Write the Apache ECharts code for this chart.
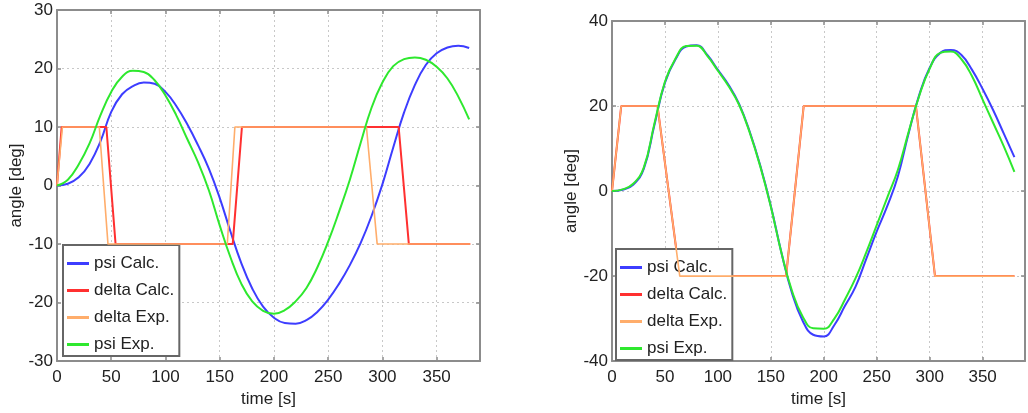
<!DOCTYPE html>
<html>
<head>
<meta charset="utf-8">
<script src="https://cdn.jsdelivr.net/npm/echarts@6/dist/echarts.min.js"></script>
<style>
  html, body { margin: 0; padding: 0; background: #ffffff; }
  #chart { width: 1028px; height: 413px; }
</style>
</head>
<body>
<div id="chart"></div>
<script>
// Sample times for the heading (psi) responses, seconds
const timeSamples = [0, 10, 20, 30, 40, 50, 60, 70, 80, 90, 100, 110, 120, 130, 140, 150, 160, 170, 180, 190,
  200, 210, 220, 230, 240, 250, 260, 270, 280, 290, 300, 310, 320, 330, 340, 350, 360, 370, 380];

// Left panel: +/-10 deg rudder manoeuvre
const leftPsiCalc = [0, 0.3, 1.4, 3.7, 7.5, 12.6, 15.6, 17.0, 17.6, 17.4, 16.0, 13.6, 10.5, 6.9, 2.9, -2.1, -7.9,
  -13.3, -17.6, -20.7, -22.6, -23.5, -23.6, -23.0, -21.6, -19.5, -16.8, -13.6, -9.8, -5.2, 0.2, 6.5, 12.5,
  17.2, 20.6, 22.6, 23.6, 23.9, 23.5];
const leftPsiExp = [0, 1.0, 3.6, 7.2, 12.0, 16.0, 18.6, 19.6, 19.4, 18.0, 15.4, 12.0, 8.0, 4.0, -0.8, -6.8, -12.3,
  -16.8, -19.8, -21.4, -21.9, -21.3, -19.8, -17.5, -14.0, -9.6, -4.5, 1.0, 7.3, 13.3, 17.6, 20.4, 21.6, 21.9,
  21.5, 20.3, 18.3, 15.2, 11.3];
const leftDeltaCalcTime = [0, 4.3, 45.5, 54, 162, 170.5, 315, 324.4, 381];
const leftDeltaCalcAngle = [0, 10, 10, -10, -10, 10, 10, -10, -10];
const leftDeltaExpTime = [0, 5, 39, 47, 157, 164, 285.3, 295.2, 381];
const leftDeltaExpAngle = [0, 10, 10, -10, -10, 10, 10, -10, -10];

// Right panel: +/-20 deg rudder manoeuvre
const rightPsiCalc = [0, 0.3, 1.5, 5.2, 15.5, 25.5, 31.0, 34.0, 34.3, 32.0, 28.5, 25.0, 20.5, 14.0, 6.0, -3.5,
  -14.5, -24.0, -30.5, -33.8, -34.2, -31.5, -27.0, -22.5, -16.0, -9.5, -3.5, 3.5, 13.5, 22.5, 29.0, 32.5,
  33.2, 32.0, 28.5, 24.0, 19.0, 13.5, 8.0];
const rightPsiExp = [0, 0.4, 1.7, 5.5, 15.8, 25.7, 31.2, 34.1, 34.2, 31.8, 28.3, 24.7, 20.3, 13.8, 5.8, -3.7,
  -14.5, -23.5, -29.5, -32.3, -32.4, -30.0, -25.5, -20.5, -14.5, -8.0, -1.5, 5.0, 13.8, 22.3, 28.8, 32.5,
  32.8, 31.0, 27.0, 21.5, 16.0, 10.5, 4.5];
const rightDeltaCalcTime = [0, 8.7, 43, 64, 164.4, 181, 287, 305, 380];
const rightDeltaCalcAngle = [0, 20, 20, -20, -20, 20, 20, -20, -20];
const rightDeltaExpTime = [0, 8.7, 43, 64, 164.4, 181, 287, 305, 380];
const rightDeltaExpAngle = [0, 20, 20, -20, -20, 20, 20, -20, -20];

const seriesNames = ['psi Calc.', 'delta Calc.', 'delta Exp.', 'psi Exp.'];
const seriesColors = ['#3d3dff', '#ff3030', '#ffad6b', '#2ee82e'];

const FONT = '"Liberation Sans", Arial, Helvetica, sans-serif';
const AXIS_GRAY = '#8c8c8c';

function pairs(xs, ys) {
  return xs.map((x, i) => [x, ys[i]]);
}

const frameLine = { show: true, onZero: false, lineStyle: { color: AXIS_GRAY, width: 2 } };
const innerTick = { show: true, inside: true, length: 4, lineStyle: { color: AXIS_GRAY, width: 1.5 } };
const dottedGrid = { show: true, lineStyle: { color: '#c8c8c8', type: [2, 3], width: 1 } };

function bottomAxis(gridIndex, max) {
  return {
    type: 'value', gridIndex, min: 0, max, interval: 50, position: 'bottom',
    name: 'time [s]', nameLocation: 'middle', nameGap: 27,
    nameTextStyle: { fontFamily: FONT, fontSize: 17, color: '#222' },
    axisLine: frameLine, axisTick: innerTick, splitLine: dottedGrid,
    axisLabel: {
      fontFamily: FONT, fontSize: 17, color: '#222', margin: 8,
      formatter: v => (v % 50 === 0 ? String(v) : '')
    }
  };
}

function topAxis(gridIndex, max) {
  return {
    type: 'value', gridIndex, min: 0, max, interval: 50, position: 'top',
    axisLine: frameLine, axisTick: innerTick,
    axisLabel: { show: false }, splitLine: { show: false }
  };
}

function leftAxis(gridIndex, lim, step) {
  return {
    type: 'value', gridIndex, min: -lim, max: lim, interval: step, position: 'left',
    name: 'angle [deg]', nameLocation: 'middle', nameGap: 28,
    nameTextStyle: { fontFamily: FONT, fontSize: 17, color: '#222' },
    axisLine: frameLine, axisTick: innerTick, splitLine: dottedGrid,
    axisLabel: { fontFamily: FONT, fontSize: 17, color: '#222', margin: 4 }
  };
}

function rightAxis(gridIndex, lim, step) {
  return {
    type: 'value', gridIndex, min: -lim, max: lim, interval: step, position: 'right',
    axisLine: frameLine, axisTick: innerTick,
    axisLabel: { show: false }, splitLine: { show: false }
  };
}

function lineSeries(name, data, xAxisIndex, yAxisIndex, smooth, width, z) {
  const color = seriesColors[seriesNames.indexOf(name)];
  return {
    name, type: 'line', data, xAxisIndex, yAxisIndex,
    smooth, symbol: 'none', z, color,
    lineStyle: { color, width },
    itemStyle: { color },
    emphasis: { disabled: true },
    animation: false
  };
}

function legendBox(left, top) {
  return {
    data: seriesNames, orient: 'vertical', left, top,
    icon: 'rect', itemWidth: 22, itemHeight: 3, itemGap: 10,
    padding: [10, 5, 3, 4],
    backgroundColor: '#ffffff', borderColor: '#666666', borderWidth: 2,
    textStyle: { fontFamily: FONT, fontSize: 17, color: '#222', lineHeight: 17 },
    selectedMode: false
  };
}

const chart = echarts.init(document.getElementById('chart'), null, { renderer: 'canvas' });
chart.setOption({
  backgroundColor: '#ffffff',
  animation: false,
  grid: [
    { left: 57, top: 10, right: 548, bottom: 51 },
    { left: 612, top: 21, right: -18, bottom: 51 }
  ],
  xAxis: [bottomAxis(0, 390), topAxis(0, 390), bottomAxis(1, 390), topAxis(1, 390)],
  yAxis: [leftAxis(0, 30, 10), rightAxis(0, 30, 10), leftAxis(1, 40, 20), rightAxis(1, 40, 20)],
  legend: [legendBox(63, 245), legendBox(616, 249)],
  series: [
    lineSeries('psi Calc.', pairs(timeSamples, leftPsiCalc), 0, 0, 0.45, 2, 3),
    lineSeries('delta Calc.', pairs(leftDeltaCalcTime, leftDeltaCalcAngle), 0, 0, false, 2, 3),
    lineSeries('delta Exp.', pairs(leftDeltaExpTime, leftDeltaExpAngle), 0, 0, false, 1.6, 4),
    lineSeries('psi Exp.', pairs(timeSamples, leftPsiExp), 0, 0, 0.45, 2, 5),

    lineSeries('psi Calc.', pairs(timeSamples, rightPsiCalc), 2, 2, 0.45, 2, 3),
    lineSeries('delta Calc.', pairs(rightDeltaCalcTime, rightDeltaCalcAngle), 2, 2, false, 2, 3),
    lineSeries('delta Exp.', pairs(rightDeltaExpTime, rightDeltaExpAngle), 2, 2, false, 1.6, 4),
    lineSeries('psi Exp.', pairs(timeSamples, rightPsiExp), 2, 2, 0.45, 2, 5)
  ]
});
</script>
</body>
</html>
